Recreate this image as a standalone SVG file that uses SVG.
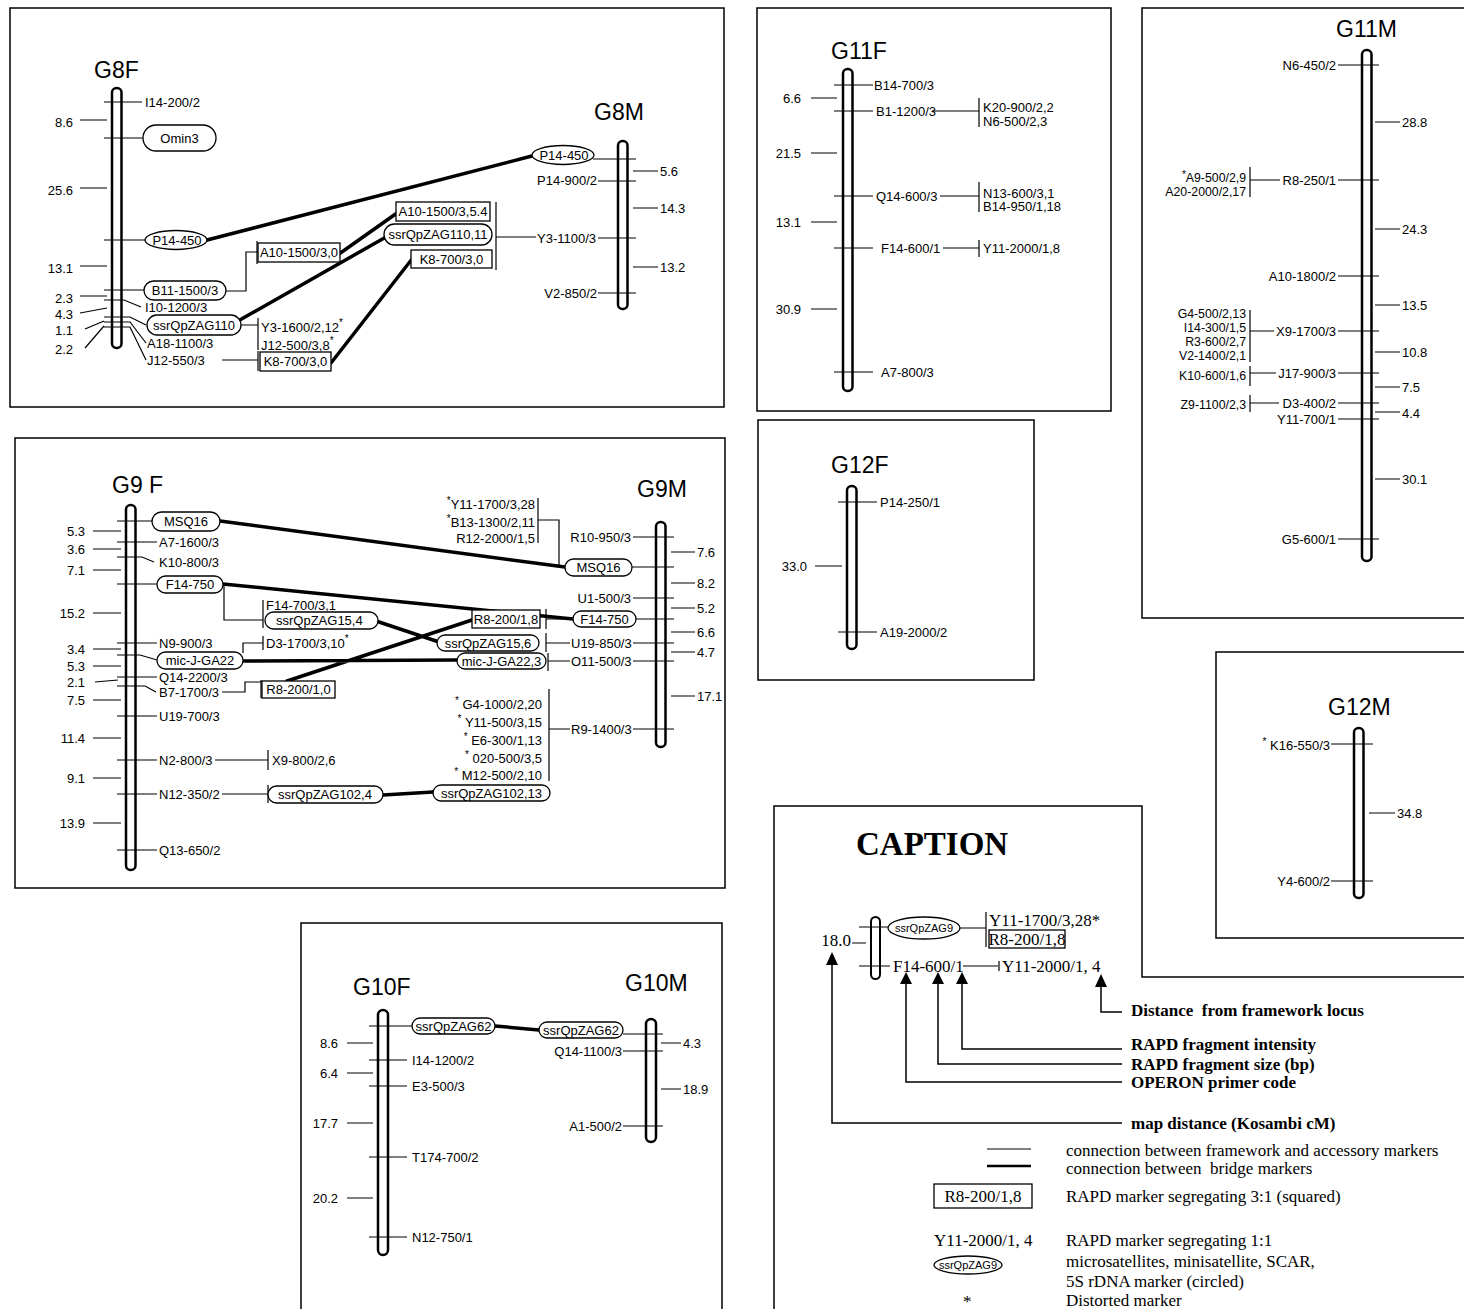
<svg xmlns="http://www.w3.org/2000/svg" width="1464" height="1309" viewBox="0 0 1464 1309">
<style>
text{font-family:"Liberation Sans",Arial,sans-serif;font-size:13px;fill:#000;dominant-baseline:central}
.ttl{font-size:23px;dominant-baseline:alphabetic}
.e{text-anchor:end}
.m{text-anchor:middle}
.sm{font-size:12.3px}
.chr{fill:#fff;stroke:#000;stroke-width:2.5}
.ln{stroke:#000;stroke-width:1.2;fill:none}
.br{stroke:#000;stroke-width:3.5;fill:none;stroke-linecap:round}
.bx{fill:#fff;stroke:#000;stroke-width:1.3}
.pn{fill:none;stroke:#000;stroke-width:1.5}
.sf{font-family:"Liberation Serif","Times New Roman",serif;font-size:17px}
.sb{font-family:"Liberation Serif","Times New Roman",serif;font-size:17px;font-weight:bold}
.sup{font-size:10px}
.cap{font-family:"Liberation Serif","Times New Roman",serif;font-size:33px;font-weight:bold;dominant-baseline:alphabetic}
</style>
<rect width="1464" height="1309" fill="#fff"/>
<g id="panels">
<rect class="pn" x="10" y="8" width="714" height="399"/>
<rect class="pn" x="757" y="8" width="354" height="403"/>
<rect class="pn" x="1142" y="8" width="330" height="610"/>
<rect class="pn" x="15" y="438" width="710" height="450"/>
<rect class="pn" x="758" y="420" width="276" height="260"/>
<rect class="pn" x="1216" y="652" width="260" height="286"/>
<rect class="pn" x="301" y="923" width="421" height="400"/>
<path class="pn" d="M774,1315V806H1142V977H1470"/>
</g>
<g id="connectors">
<path class="ln" d="M226,291H246V252H258 M257,241V264 M241,325H258 M258,318V350 M222,360H258 M258,351V371 M496,202V270 M496,237H536"/>
<path class="ln" d="M932,111H979 M979,98V127 M940,196H979 M979,182V212 M943,248H979 M979,240V257"/>
<path class="ln" d="M1250,167V197 M1250,180H1280 M1250,310V362 M1250,331H1274 M1250,366V386 M1250,373H1276 M1250,395V412 M1250,403H1279"/>
<path class="ln" d="M224,586V620H263 M263,600V628 M243,653V643H263 M263,636V650 M222,692H245V682H261 M261,680V698 M215,760H268 M268,750V770 M222,794H268 M268,785V803"/>
<path class="ln" d="M538,498V543 M538,520H559V567H565 M546,609V629 M546,619H573 M546,633V652 M546,643H570 M548,653V671 M548,661H570 M549,689V781 M549,729H570"/>
<path class="br" d="M207,240L532,156 M339,254L397,213 M238,321L386,237 M331,363L412,259"/>
<path class="br" d="M220,521L565,567 M223,584L573,619 M376,621L442,643 M243,661L457,660 M287,681L472,620 M383,795L433,792"/>
<path class="br" d="M495,1026L539,1030"/>
</g>
<g id="G8F">
<text class="ttl" x="94" y="78">G8F</text>
<rect class="chr" x="112" y="88" width="9.5" height="260" rx="4.5"/>
<path class="ln" d="M104,102H142 M80,120H107 M104,138H143 M80,188H107 M104,240H145 M80,266H107 M104,290H144 M80,296H107 M104,300H124L141,307 M80,313L107,308 M104,317H130L146,325 M85,329L104,321 M104,322H130L146,343 M85,348L104,326 M104,327H130L146,360"/>
<text x="145" y="102">I14-200/2</text>
<text class="e" x="73" y="122">8.6</text>
<rect class="bx" x="143" y="125" width="73" height="26" rx="13"/><text class="m" x="179.5" y="138">Omin3</text>
<text class="e" x="73" y="190">25.6</text>
<ellipse class="bx" cx="176" cy="240" rx="31" ry="9.5"/><text class="m" x="177" y="240">P14-450</text>
<text class="e" x="73" y="268">13.1</text>
<rect class="bx" x="144" y="281" width="82" height="19" rx="9.5"/><text class="m" x="185" y="290.5">B11-1500/3</text>
<text class="e" x="73" y="298">2.3</text>
<text x="145" y="307">I10-1200/3</text>
<text class="e" x="73" y="314">4.3</text>
<rect class="bx" x="147" y="315" width="94" height="20" rx="10"/><text class="m" x="194" y="325">ssrQpZAG110</text>
<text class="e" x="73" y="330">1.1</text>
<text x="147" y="343">A18-1100/3</text>
<text class="e" x="73" y="349">2.2</text>
<text x="147" y="360">J12-550/3</text>
<rect class="bx" x="258" y="243" width="82" height="19"/><text class="m" x="299" y="252.5">A10-1500/3,0</text>
<text x="261" y="327">Y3-1600/2,12<tspan class="sup" dy="-5">*</tspan></text>
<text x="261" y="345">J12-500/3,8<tspan class="sup" dy="-5">*</tspan></text>
<rect class="bx" x="260" y="352" width="71" height="19"/><text class="m" x="295.5" y="361.5">K8-700/3,0</text>
</g>
<g id="G8M">
<text class="ttl" x="594" y="120">G8M</text>
<rect class="chr" x="618" y="141" width="9.5" height="168" rx="4.5"/>
<path class="ln" d="M593,159H636 M633,171H658 M598,181H636 M633,208H658 M598,238H636 M633,267H658 M598,293H636"/>
<ellipse class="bx" cx="563" cy="155" rx="31" ry="9.5"/><text class="m" x="564" y="155">P14-450</text>
<text x="660" y="171">5.6</text>
<text class="e" x="597" y="180">P14-900/2</text>
<text x="660" y="208">14.3</text>
<text x="537" y="238">Y3-1100/3</text>
<text x="660" y="267">13.2</text>
<text class="e" x="597" y="293">V2-850/2</text>
<rect class="bx" x="396" y="202" width="94" height="19"/><text class="m" x="443" y="211.5">A10-1500/3,5.4</text>
<rect class="bx" x="384" y="224" width="108" height="21" rx="10.5"/><text class="m" x="438" y="234.5">ssrQpZAG110,11</text>
<rect class="bx" x="411" y="250" width="81" height="18"/><text class="m" x="451.5" y="259">K8-700/3,0</text>
</g>
<g id="G11F">
<text class="ttl" x="831" y="59">G11F</text>
<rect class="chr" x="843" y="69" width="9.5" height="322" rx="4.5"/>
<path class="ln" d="M834,85H873 M811,98H837 M834,111H873 M811,153H837 M834,196H873 M811,222H837 M834,248H873 M811,309H837 M834,372H873"/>
<text x="874" y="85">B14-700/3</text>
<text class="e" x="801" y="98">6.6</text>
<text x="876" y="111">B1-1200/3</text>
<text class="e" x="801" y="153">21.5</text>
<text x="876" y="196">Q14-600/3</text>
<text class="e" x="801" y="222">13.1</text>
<text x="881" y="248">F14-600/1</text>
<text class="e" x="801" y="309">30.9</text>
<text x="881" y="372">A7-800/3</text>
<text x="983" y="107">K20-900/2,2</text>
<text x="983" y="121">N6-500/2,3</text>
<text x="983" y="193">N13-600/3,1</text>
<text x="983" y="206">B14-950/1,18</text>
<text x="983" y="248">Y11-2000/1,8</text>
</g>
<g id="G11M">
<text class="ttl" x="1336" y="37">G11M</text>
<rect class="chr" x="1362" y="50" width="9.5" height="511" rx="4.5"/>
<path class="ln" d="M1338,65H1379 M1375,122H1400 M1338,180H1379 M1375,229H1400 M1338,276H1379 M1375,305H1400 M1338,331H1379 M1375,352H1400 M1338,373H1379 M1375,387H1400 M1338,403H1379 M1375,412H1400 M1338,419H1379 M1375,479H1400 M1338,539H1379"/>
<text class="e" x="1336" y="65">N6-450/2</text>
<text class="e" x="1336" y="180">R8-250/1</text>
<text class="e" x="1336" y="276">A10-1800/2</text>
<text class="e" x="1336" y="331">X9-1700/3</text>
<text class="e" x="1336" y="373">J17-900/3</text>
<text class="e" x="1336" y="403">D3-400/2</text>
<text class="e" x="1336" y="419">Y11-700/1</text>
<text class="e" x="1336" y="539">G5-600/1</text>
<text x="1402" y="122">28.8</text>
<text x="1402" y="229">24.3</text>
<text x="1402" y="305">13.5</text>
<text x="1402" y="352">10.8</text>
<text x="1402" y="387">7.5</text>
<text x="1402" y="413">4.4</text>
<text x="1402" y="479">30.1</text>
<text class="e sm" x="1246" y="178"><tspan class="sup" dy="-4">*</tspan><tspan dy="4">A9-500/2,9</tspan></text>
<text class="e sm" x="1246" y="192">A20-2000/2,17</text>
<text class="e sm" x="1246" y="314">G4-500/2,13</text>
<text class="e sm" x="1246" y="328">I14-300/1,5</text>
<text class="e sm" x="1246" y="342">R3-600/2,7</text>
<text class="e sm" x="1246" y="356">V2-1400/2,1</text>
<text class="e sm" x="1246" y="376">K10-600/1,6</text>
<text class="e sm" x="1246" y="405">Z9-1100/2,3</text>
</g>
<g id="G9F">
<text class="ttl" x="112" y="493">G9 F</text>
<rect class="chr" x="126" y="505" width="9.5" height="365" rx="4.5"/>
<path class="ln" d="M117,521H152 M93,531H121 M117,542H157 M93,549H121 M117,557H142L154,562 M93,570H121 M117,584H157 M93,613H121 M117,643H157 M93,649H121 M117,655H140L157,660 M93,666H121 M117,677H157 M95,682L118,680 M117,686H145L156,692 M93,700H121 M117,716H157 M93,738H121 M117,760H157 M93,778H121 M117,794H157 M93,823H121 M117,850H157"/>
<rect class="bx" x="152" y="512" width="68" height="19" rx="9.5"/><text class="m" x="186" y="521.5">MSQ16</text>
<text class="e" x="85" y="531">5.3</text>
<text x="159" y="542">A7-1600/3</text>
<text class="e" x="85" y="549">3.6</text>
<text x="159" y="562">K10-800/3</text>
<text class="e" x="85" y="570">7.1</text>
<rect class="bx" x="157" y="576" width="66" height="17" rx="8.5"/><text class="m" x="190" y="584.5">F14-750</text>
<text class="e" x="85" y="613">15.2</text>
<text x="266" y="605">F14-700/3,1</text>
<rect class="bx" x="265" y="612" width="113" height="17" rx="8.5"/><text x="276" y="620.5">ssrQpZAG15,4</text>
<text x="159" y="643">N9-900/3</text>
<text x="266" y="643">D3-1700/3,10<tspan class="sup" dy="-5">*</tspan></text>
<text class="e" x="85" y="649">3.4</text>
<rect class="bx" x="157" y="652" width="86" height="17" rx="8.5"/><text class="m" x="200" y="660.5">mic-J-GA22</text>
<text class="e" x="85" y="666">5.3</text>
<text x="159" y="677">Q14-2200/3</text>
<text class="e" x="85" y="682">2.1</text>
<text x="159" y="692">B7-1700/3</text>
<rect class="bx" x="262" y="681" width="73" height="17"/><text class="m" x="298.5" y="689.5">R8-200/1,0</text>
<text class="e" x="85" y="700">7.5</text>
<text x="159" y="716">U19-700/3</text>
<text class="e" x="85" y="738">11.4</text>
<text x="159" y="760">N2-800/3</text>
<text x="272" y="760">X9-800/2,6</text>
<text class="e" x="85" y="778">9.1</text>
<text x="159" y="794">N12-350/2</text>
<rect class="bx" x="268" y="786" width="115" height="17" rx="8.5"/><text x="278" y="794.5">ssrQpZAG102,4</text>
<text class="e" x="85" y="823">13.9</text>
<text x="159" y="850">Q13-650/2</text>
</g>
<g id="G9M">
<text class="ttl" x="637" y="497">G9M</text>
<rect class="chr" x="656" y="522" width="9.5" height="225" rx="4.5"/>
<path class="ln" d="M633,537H674 M671,552H695 M632,567H674 M671,583H695 M633,598H674 M671,608H695 M636,619H674 M671,632H695 M633,643H674 M671,652H695 M633,661H674 M671,696H695 M633,729H674"/>
<text class="e" x="631" y="537">R10-950/3</text>
<text x="697" y="552">7.6</text>
<rect class="bx" x="565" y="559" width="67" height="17" rx="8.5"/><text class="m" x="598.5" y="567.5">MSQ16</text>
<text class="e" x="535" y="504"><tspan class="sup" dy="-4">*</tspan><tspan dy="4">Y11-1700/3,28</tspan></text>
<text class="e" x="535" y="522"><tspan class="sup" dy="-4">*</tspan><tspan dy="4">B13-1300/2,11</tspan></text>
<text class="e" x="535" y="538">R12-2000/1,5</text>
<text x="697" y="583">8.2</text>
<text class="e" x="631" y="598">U1-500/3</text>
<text x="697" y="608">5.2</text>
<rect class="bx" x="573" y="611" width="63" height="16" rx="8"/><text class="m" x="604.5" y="619">F14-750</text>
<rect class="bx" x="472" y="610" width="68" height="18"/><text class="m" x="506" y="619">R8-200/1,8</text>
<text x="697" y="632">6.6</text>
<rect class="bx" x="437" y="635" width="102" height="16" rx="8"/><text class="m" x="488" y="643">ssrQpZAG15,6</text>
<text x="571" y="643">U19-850/3</text>
<text x="697" y="652">4.7</text>
<rect class="bx" x="457" y="653" width="89" height="16" rx="8"/><text class="m" x="501.5" y="661">mic-J-GA22,3</text>
<text x="571" y="661">O11-500/3</text>
<text x="697" y="696">17.1</text>
<text x="571" y="729">R9-1400/3</text>
<text class="e" x="542" y="704"><tspan class="sup" dy="-4">*</tspan><tspan dy="4"> G4-1000/2,20</tspan></text>
<text class="e" x="542" y="722"><tspan class="sup" dy="-4">*</tspan><tspan dy="4"> Y11-500/3,15</tspan></text>
<text class="e" x="542" y="740"><tspan class="sup" dy="-4">*</tspan><tspan dy="4"> E6-300/1,13</tspan></text>
<text class="e" x="542" y="758"><tspan class="sup" dy="-4">*</tspan><tspan dy="4"> 020-500/3,5</tspan></text>
<text class="e" x="542" y="775"><tspan class="sup" dy="-4">*</tspan><tspan dy="4"> M12-500/2,10</tspan></text>
<rect class="bx" x="433" y="785" width="117" height="16" rx="8"/><text class="m" x="491.5" y="793">ssrQpZAG102,13</text>
</g>
<g id="G12F">
<text class="ttl" x="831" y="473">G12F</text>
<rect class="chr" x="847" y="486" width="9.5" height="163" rx="4.5"/>
<path class="ln" d="M838,502H877 M815,566H842 M838,632H877"/>
<text x="880" y="502">P14-250/1</text>
<text class="e" x="807" y="566">33.0</text>
<text x="880" y="632">A19-2000/2</text>
</g>
<g id="G12M">
<text class="ttl" x="1328" y="715">G12M</text>
<rect class="chr" x="1354" y="728" width="9.5" height="170" rx="4.5"/>
<path class="ln" d="M1331,744H1373 M1369,813H1395 M1331,881H1373"/>
<text class="e" x="1330" y="745"><tspan class="sup" dy="-4">*</tspan><tspan dy="4"> K16-550/3</tspan></text>
<text x="1397" y="813">34.8</text>
<text class="e" x="1330" y="881">Y4-600/2</text>
</g>
<g id="G10F">
<text class="ttl" x="353" y="995">G10F</text>
<rect class="chr" x="378" y="1010" width="10" height="245" rx="5"/>
<path class="ln" d="M369,1026H412 M347,1043H373 M369,1060H407 M347,1073H373 M369,1086H407 M347,1123H373 M369,1157H407 M347,1198H373 M369,1237H407"/>
<rect class="bx" x="412" y="1018" width="83" height="16" rx="8"/><text class="m" x="453.5" y="1026">ssrQpZAG62</text>
<text class="e" x="338" y="1043">8.6</text>
<text x="412" y="1060">I14-1200/2</text>
<text class="e" x="338" y="1073">6.4</text>
<text x="412" y="1086">E3-500/3</text>
<text class="e" x="338" y="1123">17.7</text>
<text x="412" y="1157">T174-700/2</text>
<text class="e" x="338" y="1198">20.2</text>
<text x="412" y="1237">N12-750/1</text>
</g>
<g id="G10M">
<text class="ttl" x="625" y="991">G10M</text>
<rect class="chr" x="646" y="1019" width="10" height="123" rx="5"/>
<path class="ln" d="M623,1034H663 M661,1043H681 M623,1051H663 M661,1089H681 M623,1126H663"/>
<rect class="bx" x="539" y="1022" width="84" height="16" rx="8"/><text class="m" x="581" y="1030">ssrQpZAG62</text>
<text x="683" y="1043">4.3</text>
<text class="e" x="622" y="1051">Q14-1100/3</text>
<text x="683" y="1089">18.9</text>
<text class="e" x="622" y="1126">A1-500/2</text>
</g>
<g id="caption">
<text class="cap" x="856" y="855">CAPTION</text>
<rect class="chr" x="871" y="917" width="9" height="62" rx="4.5" style="stroke-width:2"/>
<path class="ln" d="M859,927H890 M852,943H866 M859,966H890 M960,928H986 M986,912V947 M963,966H998 M999,961V971"/>
<ellipse class="bx" cx="924" cy="928" rx="36" ry="11"/><text class="m" x="924" y="928" style="font-size:11px">ssrQpZAG9</text>
<text class="sf" x="989" y="920">Y11-1700/3,28*</text>
<rect class="bx" x="989" y="930" width="76" height="18"/><text class="sf m" x="1027" y="939">R8-200/1,8</text>
<text class="sf e" x="851" y="940">18.0</text>
<text class="sf" x="893" y="966">F14-600/1</text>
<text class="sf" x="1002" y="966">Y11-2000/1, 4</text>
<path d="M832,952L826,965H838Z M906,972L900,984H912Z M938,972L932,984H944Z M962,972L956,984H968Z M1101,974L1095,987H1107Z" fill="#000"/>
<path class="ln" style="stroke-width:1.5" d="M832,964V1123H1122 M906,983V1082H1122 M938,983V1064H1122 M962,983V1049H1122 M1101,987V1012H1122"/>
<text class="sb" x="1131" y="1010">Distance&#160; from framework locus</text>
<text class="sb" x="1131" y="1044">RAPD fragment intensity</text>
<text class="sb" x="1131" y="1064">RAPD fragment size (bp)</text>
<text class="sb" x="1131" y="1082">OPERON primer code</text>
<text class="sb" x="1131" y="1123">map distance (Kosambi cM)</text>
<path class="ln" d="M987,1149H1031"/>
<path class="ln" style="stroke-width:2.6" d="M987,1166H1031"/>
<text class="sf" x="1066" y="1150">connection between framework and accessory markers</text>
<text class="sf" x="1066" y="1168">connection between&#160; bridge markers</text>
<rect class="bx" x="934" y="1184" width="98" height="24"/><text class="sf m" x="983" y="1196">R8-200/1,8</text>
<text class="sf" x="1066" y="1196">RAPD marker segregating 3:1 (squared)</text>
<text class="sf" x="934" y="1240">Y11-2000/1, 4</text>
<text class="sf" x="1066" y="1240">RAPD marker segregating 1:1</text>
<ellipse class="bx" cx="968" cy="1265" rx="34" ry="9"/><text class="m" x="968" y="1265" style="font-size:11px">ssrQpZAG9</text>
<text class="sf" x="1066" y="1261">microsatellites, minisatellite, SCAR,</text>
<text class="sf" x="1066" y="1281">5S rDNA marker (circled)</text>
<text class="sf" x="963" y="1301">*</text>
<text class="sf" x="1066" y="1300">Distorted marker</text>
</g>
</svg>
